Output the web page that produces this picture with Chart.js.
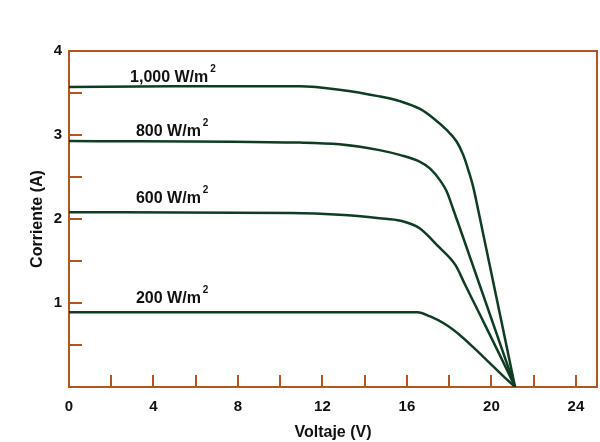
<!DOCTYPE html>
<html>
<head>
<meta charset="utf-8">
<script src="https://cdn.jsdelivr.net/npm/chart.js@4.4.1/dist/chart.umd.min.js"></script>
<style>
  html, body { margin: 0; padding: 0; background: #ffffff; }
  #wrap { width: 600px; height: 442px; }
</style>
</head>
<body>
<div id="wrap"><canvas id="c" width="600" height="442"></canvas></div>
<script>
// ---- data ----
const seriesNames = ["1,000 W/m", "800 W/m", "600 W/m", "200 W/m"];
const v1000 = [0, 5, 10.9, 12.8, 14.7, 15.7, 16.62, 17.25, 17.88, 18.36, 18.67, 18.91, 19.14, 19.38, 21.12];
const i1000 = [3.57, 3.58, 3.58, 3.54, 3.46, 3.40, 3.31, 3.20, 3.06, 2.92, 2.76, 2.58, 2.38, 2.10, 0];
const v800 = [0, 10.9, 12.8, 14.7, 15.7, 16.62, 17.10, 17.57, 17.88, 18.20, 18.51, 21.12];
const i800 = [2.93, 2.91, 2.89, 2.82, 2.76, 2.68, 2.60, 2.46, 2.33, 2.11, 1.89, 0];
const v600 = [0, 10.5, 12.8, 14.7, 15.7, 16.6, 17.5, 18.3, 18.75, 19.46, 20.4, 21.12];
const i600 = [2.08, 2.07, 2.05, 2.01, 1.98, 1.89, 1.67, 1.45, 1.22, 0.86, 0.38, 0];
const v200 = [0, 16.5, 17.1, 17.8, 18.5, 19.2, 19.9, 20.6, 21.12];
const i200 = [0.89, 0.89, 0.84, 0.75, 0.62, 0.46, 0.29, 0.12, 0];
// label anchors (data units: voltage, current) for each curve's caption
const labelV = [2.89, 3.17, 3.17, 3.17];
const labelI = [3.63, 2.99, 2.19, 1.00];
const xTickLabels = [0, 4, 8, 12, 16, 20, 24];
const yTickLabels = [1, 2, 3, 4];
const xMinorTicks = [2, 4, 6, 8, 10, 12, 14, 16, 18, 20, 22, 24];
const yMinorTicks = [0.5, 1, 1.5, 2, 2.5, 3, 3.5];

const AXIS = '#b5541c';
const LINE = '#0e3d24';
const FONT = "'Liberation Sans', Arial, Helvetica, sans-serif";

function pts(vs, is) { return vs.map((v, k) => ({ x: v, y: is[k] })); }

const frameAndTicks = {
  id: 'frameAndTicks',
  beforeDatasetsDraw(chart) {
    const { ctx, chartArea: a, scales: { x, y } } = chart;
    ctx.save();
    ctx.strokeStyle = AXIS;
    ctx.lineWidth = 2;
    ctx.beginPath();
    xMinorTicks.forEach(v => {
      const px = Math.round(x.getPixelForValue(v));
      ctx.moveTo(px, a.bottom);
      ctx.lineTo(px, a.bottom - 12);
    });
    yMinorTicks.forEach(v => {
      const py = Math.round(y.getPixelForValue(v));
      ctx.moveTo(a.left, py);
      ctx.lineTo(a.left + 13, py);
    });
    ctx.stroke();
    ctx.strokeRect(a.left, a.top, a.right - a.left, a.bottom - a.top);
    ctx.restore();
  },
  afterDatasetsDraw(chart) {
    const { ctx, scales: { x, y } } = chart;
    ctx.save();
    ctx.fillStyle = '#111111';
    ctx.textBaseline = 'alphabetic';
    ctx.textAlign = 'left';
    seriesNames.forEach((name, k) => {
      const px = x.getPixelForValue(labelV[k]);
      const py = y.getPixelForValue(labelI[k]);
      ctx.font = "bold 16px " + FONT;
      ctx.fillText(name, px, py);
      const w = ctx.measureText(name).width;
      ctx.font = "bold 10px " + FONT;
      ctx.fillText("2", px + w + 2, py - 10);
    });
    ctx.restore();
  }
};

new Chart(document.getElementById('c'), {
  type: 'line',
  data: {
    datasets: [
      { label: seriesNames[0], data: pts(v1000, i1000) },
      { label: seriesNames[1], data: pts(v800, i800) },
      { label: seriesNames[2], data: pts(v600, i600) },
      { label: seriesNames[3], data: pts(v200, i200) }
    ].map(d => Object.assign(d, {
      borderColor: LINE,
      borderWidth: 2.5,
      pointRadius: 0,
      fill: false,
      cubicInterpolationMode: 'monotone'
    }))
  },
  options: {
    responsive: false,
    animation: false,
    devicePixelRatio: 1,
    layout: { padding: { left: 28, top: 51, right: 3, bottom: 0 } },
    plugins: { legend: { display: false }, tooltip: { enabled: false } },
    scales: {
      x: {
        type: 'linear',
        min: 0, max: 25,
        afterFit(s) { s.height = 55; },
        grid: { display: false, drawTicks: false },
        border: { display: false },
        ticks: {
          stepSize: 4,
          includeBounds: false,
          autoSkip: false,
          maxRotation: 0,
          padding: 11,
          color: '#111111',
          font: { family: FONT, size: 15, weight: 'bold' },
          callback: v => xTickLabels.includes(v) ? String(v) : ''
        },
        title: {
          display: true,
          text: 'Voltaje (V)',
          color: '#111111',
          font: { family: FONT, size: 16, weight: 'bold' },
          padding: { top: 0, bottom: 0 }
        }
      },
      y: {
        type: 'linear',
        min: 0, max: 4,
        afterFit(s) { s.width = 41; },
        grid: { display: false, drawTicks: false },
        border: { display: false },
        ticks: {
          stepSize: 1,
          autoSkip: false,
          padding: 7,
          color: '#111111',
          font: { family: FONT, size: 15, weight: 'bold' },
          callback: v => yTickLabels.includes(v) ? String(v) : ''
        },
        title: {
          display: true,
          text: 'Corriente (A)',
          color: '#111111',
          font: { family: FONT, size: 16, weight: 'bold' },
          padding: { top: 0, bottom: 0 }
        }
      }
    }
  },
  plugins: [frameAndTicks]
});
</script>
</body>
</html>
